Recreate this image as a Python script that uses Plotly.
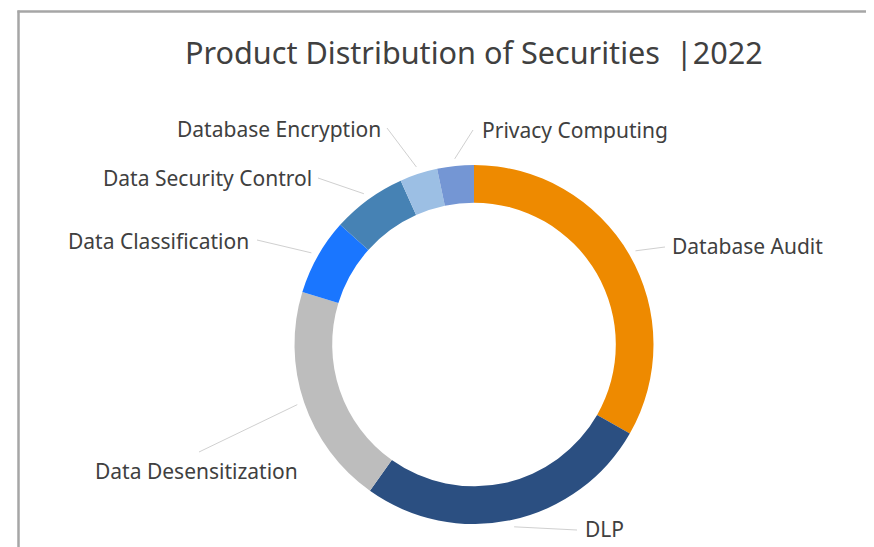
import math
import plotly.graph_objects as go

W, H = 882, 555
OFF = 8  # page body margin of the html output

products = ["Database Audit", "DLP", "Data Desensitization", "Data Classification",
            "Data Security Control", "Database Encryption", "Privacy Computing"]
shares = [33.3, 26.6, 19.9, 6.9, 6.7, 3.4, 3.3]
colors = ["#EE8A00", "#2B4F81", "#BDBDBD", "#1A76FF", "#4682B4", "#9CBFE4", "#7496D4"]

# donut placement in screen pixels
cx, cy, R = 474, 344.5, 179.5

# label anchors (px) and alignment, one per product
label_pos = [(670, 246, "left"), (583, 529, "left"), (300, 471, "right"),
             (251, 241, "right"), (314, 178, "right"), (383, 129, "right"),
             (480, 130, "left")]
# leader line outer end (px)
line_end = [(665, 247), (577, 530), (199, 452), (257, 240), (318, 178), (387, 128), (473, 130)]

def px(x):
    return (x - OFF) / W

def py(y):
    return 1 - (y - OFF) / H

fig = go.Figure(go.Pie(
    labels=products,
    values=shares,
    marker=dict(colors=colors),
    hole=0.79,
    sort=False,
    direction="clockwise",
    rotation=0,
    textinfo="none",
    hoverinfo="label+percent",
    domain=dict(x=[px(cx - R), px(cx + R)], y=[py(cy + R), py(cy - R)]),
    showlegend=False,
))

total = sum(shares)
acc = 0
shapes = []
annotations = []
for name, v, (lx, ly, side), (ex, ey) in zip(products, shares, label_pos, line_end):
    mid = (acc + v / 2) / total * 2 * math.pi
    acc += v
    sx = cx + 1.04 * R * math.sin(mid)
    sy = cy - 1.04 * R * math.cos(mid)
    shapes.append(dict(type="line", xref="paper", yref="paper",
                       x0=px(sx), y0=py(sy), x1=px(ex), y1=py(ey),
                       line=dict(color="#D0D0D0", width=1)))
    annotations.append(dict(text=name, x=px(lx), y=py(ly), xref="paper", yref="paper",
                            xanchor=side, yanchor="middle", showarrow=False,
                            font=dict(size=21, color="#404040", family="Noto Sans")))

# frame of the cropped chart area
shapes.append(dict(type="line", xref="paper", yref="paper", x0=px(17.5), y0=py(11.5),
                   x1=1, y1=py(11.5), line=dict(color="#A6A6A6", width=2.5)))
shapes.append(dict(type="line", xref="paper", yref="paper", x0=px(18.5), y0=py(10.5),
                   x1=px(18.5), y1=0, line=dict(color="#A6A6A6", width=2.5)))

annotations.append(dict(text="Product Distribution of Securities  |2022", x=px(474), y=py(52),
                        xref="paper", yref="paper", xanchor="center", yanchor="middle",
                        showarrow=False,
                        font=dict(size=30.6, color="#404040", family="Noto Sans")))

fig.update_layout(
    width=W, height=H,
    margin=dict(l=0, r=0, t=0, b=0),
    paper_bgcolor="white",
    plot_bgcolor="white",
    shapes=shapes,
    annotations=annotations,
)

fig.write_html("out.html")
